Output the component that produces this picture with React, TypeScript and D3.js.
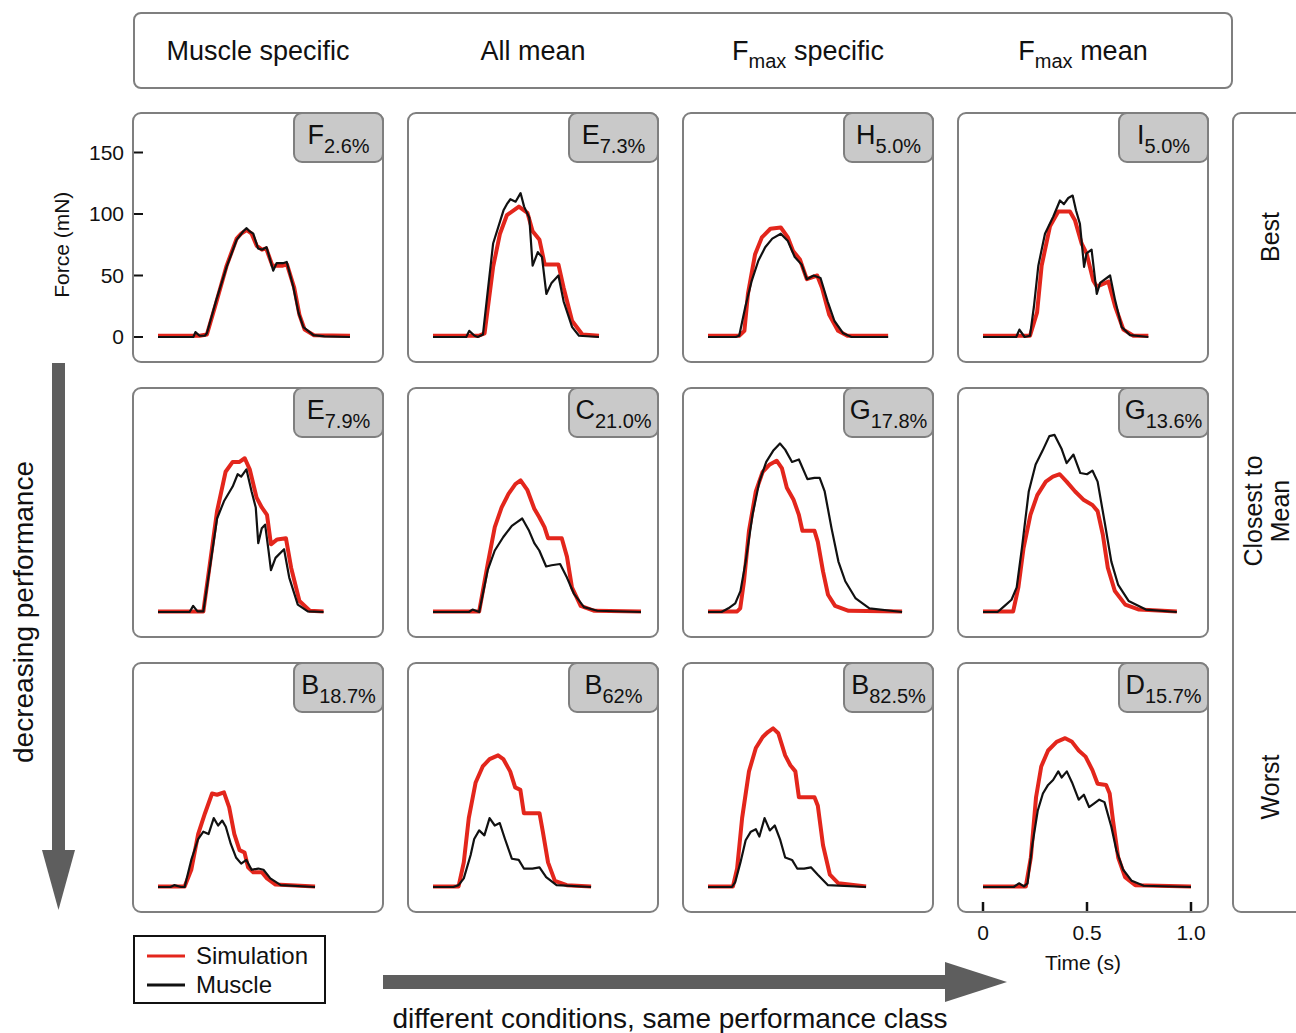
import React from "react";
import * as d3 from "d3";

type Pt = [number, number];

// column / row headings
const columnTitles: [string, string, string][] = [
  ["Muscle specific", "", ""],
  ["All mean", "", ""],
  ["F", "max", " specific"],
  ["F", "max", " mean"],
];
const rowLabels: string[][] = [["Best"], ["Closest to", "Mean"], ["Worst"]];

// panel badges (muscle letter + error)
const panelLetters = ["F", "E", "H", "I", "E", "C", "G", "G", "B", "B", "B", "D"];
const panelErrors = ["2.6%", "7.3%", "5.0%", "5.0%", "7.9%", "21.0%", "17.8%", "13.6%", "18.7%", "62%", "82.5%", "15.7%"];

const forceTicks = [0, 50, 100, 150];
const timeTicks = [0, 0.5, 1.0];
const timeTickLabels = ["0", "0.5", "1.0"];

// traces: [time (s), force (mN)]
const musF26: Pt[] = [[0,0],[0.17,0],[0.18,4],[0.2,1],[0.225,1],[0.235,3],[0.28,30],[0.33,57],[0.378,79],[0.41,86],[0.426,88.5],[0.44,86],[0.458,84],[0.481,72],[0.5,71],[0.522,73],[0.554,54],[0.57,60],[0.6,60],[0.619,61],[0.65,41],[0.675,20],[0.699,8],[0.747,1.5],[0.8,0.5],[0.923,0]];
const simF26: Pt[] = [[0,1],[0.2,1],[0.235,2],[0.28,28],[0.33,58],[0.378,80],[0.4,84],[0.426,87],[0.45,84],[0.475,74],[0.5,71],[0.52,72],[0.55,58],[0.6,58],[0.62,59],[0.655,40],[0.68,18],[0.705,6],[0.75,1.5],[0.923,1]];

const musE73: Pt[] = [[0,0],[0.16,0],[0.174,5],[0.2,1],[0.215,0],[0.24,2],[0.265,40],[0.289,76],[0.339,103],[0.355,108],[0.372,112],[0.397,110],[0.421,117],[0.438,106],[0.463,97],[0.479,58],[0.504,69],[0.524,65],[0.545,35],[0.57,44],[0.603,50],[0.628,29],[0.669,8],[0.702,1],[0.798,0]];
const simE73: Pt[] = [[0,1],[0.22,1],[0.248,3],[0.289,57],[0.322,84],[0.355,99],[0.413,106],[0.454,101],[0.479,86],[0.512,79],[0.537,59],[0.603,59],[0.628,40],[0.669,13],[0.718,2],[0.798,1]];

const musH50: Pt[] = [[0,0],[0.134,0],[0.15,1],[0.18,25],[0.209,45],[0.242,62],[0.275,73],[0.309,80],[0.35,84],[0.384,78],[0.417,65],[0.45,59],[0.475,47],[0.508,50],[0.541,48],[0.575,29],[0.608,13],[0.65,3],[0.69,0],[0.866,0]];
const simH50: Pt[] = [[0,1],[0.15,1],[0.175,5],[0.192,35],[0.226,67],[0.259,81],[0.3,88],[0.35,89],[0.384,81],[0.409,70],[0.442,63],[0.475,47],[0.525,50],[0.548,40],[0.583,18],[0.625,5],[0.67,1],[0.866,1]];

const musI50: Pt[] = [[0,0],[0.16,0],[0.175,6],[0.2,0],[0.226,1],[0.245,25],[0.266,58],[0.298,84],[0.338,98],[0.37,111],[0.389,108],[0.41,113],[0.431,115],[0.447,103],[0.466,92],[0.486,57],[0.498,68],[0.522,71],[0.547,35],[0.563,44],[0.611,50],[0.635,30],[0.667,8],[0.707,1.5],[0.795,0]];
const simI50: Pt[] = [[0,1],[0.226,1],[0.26,20],[0.282,58],[0.322,90],[0.362,102],[0.418,102],[0.442,95],[0.474,76],[0.498,68],[0.53,46],[0.547,41],[0.603,45],[0.635,25],[0.675,6],[0.723,1],[0.795,1]];

const musE79: Pt[] = [[0,0],[0.152,0],[0.169,5],[0.19,0.5],[0.218,0.5],[0.251,38],[0.284,76],[0.317,90],[0.359,102],[0.383,112],[0.4,110],[0.425,116],[0.45,98],[0.47,85],[0.482,56],[0.499,68],[0.515,71],[0.532,49],[0.543,34],[0.565,44],[0.606,51],[0.631,28],[0.672,6],[0.72,0.5],[0.796,0]];
const simE79: Pt[] = [[0,0.5],[0.218,0.5],[0.251,41],[0.284,82],[0.325,114],[0.359,122],[0.392,122],[0.417,125],[0.441,116],[0.474,93],[0.499,85],[0.524,79],[0.543,55],[0.573,59],[0.615,60],[0.64,36],[0.68,9],[0.73,1],[0.796,0.5]];

const musC210: Pt[] = [[0,0],[0.173,0],[0.19,2],[0.222,0],[0.263,34],[0.297,50],[0.338,61],[0.379,70],[0.404,73],[0.429,76],[0.462,66],[0.487,56],[0.511,50],[0.544,37],[0.57,38],[0.611,39],[0.644,28],[0.677,15],[0.726,4],[0.79,1],[1.0,0]];
const simC210: Pt[] = [[0,0.5],[0.222,0.5],[0.263,39],[0.297,69],[0.33,85],[0.363,96],[0.396,104],[0.421,107],[0.454,99],[0.487,84],[0.511,77],[0.536,69],[0.553,60],[0.619,60],[0.644,45],[0.668,20],[0.71,5],[0.776,1],[1.0,0.5]];

const musG178: Pt[] = [[0,0],[0.065,0],[0.098,3],[0.131,7],[0.156,17],[0.181,41],[0.214,79],[0.247,106],[0.28,122],[0.313,131],[0.346,137],[0.371,132],[0.404,122],[0.437,124],[0.478,108],[0.512,109],[0.537,109],[0.561,98],[0.594,68],[0.627,41],[0.66,25],[0.71,11],[0.776,3],[0.933,0]];
const simG178: Pt[] = [[0,0.5],[0.14,0.5],[0.155,3],[0.173,25],[0.197,66],[0.23,98],[0.263,114],[0.297,120],[0.33,123],[0.355,117],[0.379,101],[0.412,91],[0.437,79],[0.454,66],[0.512,66],[0.528,57],[0.553,33],[0.577,14],[0.611,5],[0.676,1],[0.933,0.5]];

const musG136: Pt[] = [[0,0],[0.07,0],[0.104,5],[0.137,10],[0.162,20],[0.187,52],[0.22,98],[0.253,120],[0.286,131],[0.319,143],[0.344,144],[0.377,133],[0.402,121],[0.435,128],[0.468,113],[0.5,112],[0.526,115],[0.551,106],[0.584,74],[0.617,41],[0.65,22],[0.7,9],[0.783,2],[0.932,0]];
const simG136: Pt[] = [[0,0.5],[0.145,0.5],[0.17,20],[0.195,52],[0.228,79],[0.261,95],[0.302,106],[0.336,110],[0.369,112],[0.402,106],[0.443,98],[0.485,91],[0.526,87],[0.551,82],[0.576,63],[0.6,36],[0.634,17],[0.684,6],[0.75,2],[0.932,0.5]];

const musB187: Pt[] = [[0,0],[0.06,0],[0.078,1.5],[0.111,0],[0.128,0],[0.16,22],[0.193,39],[0.218,45],[0.243,43],[0.268,56],[0.289,50],[0.309,54],[0.326,49],[0.35,35],[0.375,24],[0.4,19],[0.425,22],[0.45,14],[0.482,15],[0.507,14],[0.54,7],[0.59,1.5],[0.755,0]];
const simB187: Pt[] = [[0,0.5],[0.128,0.5],[0.16,14],[0.193,43],[0.226,60],[0.26,76],[0.284,75],[0.317,77],[0.342,65],[0.367,43],[0.392,30],[0.416,28],[0.433,16],[0.458,12],[0.499,12],[0.524,7],[0.565,2],[0.755,0.5]];

const musB62: Pt[] = [[0,0],[0.098,0],[0.123,1.5],[0.148,7],[0.181,26],[0.198,39],[0.222,46],[0.247,42],[0.272,56],[0.297,50],[0.321,52],[0.346,39],[0.379,23],[0.412,22],[0.437,15],[0.478,15],[0.512,16],[0.544,8],[0.594,1.5],[0.76,0]];
const simB62: Pt[] = [[0,0.5],[0.123,0.5],[0.148,20],[0.172,56],[0.205,85],[0.239,98],[0.272,104],[0.313,107],[0.338,104],[0.371,94],[0.395,81],[0.42,79],[0.437,60],[0.512,60],[0.528,45],[0.553,20],[0.586,5],[0.643,1.5],[0.76,0.5]];

const musB825: Pt[] = [[0,0],[0.115,0],[0.131,4],[0.156,20],[0.181,38],[0.206,45],[0.23,47],[0.247,41],[0.272,56],[0.297,46],[0.321,50],[0.346,39],[0.371,24],[0.404,22],[0.429,15],[0.462,15],[0.495,16],[0.528,10],[0.577,1.5],[0.76,0]];
const simB825: Pt[] = [[0,0.5],[0.12,0.5],[0.14,15],[0.164,56],[0.197,94],[0.23,113],[0.263,122],[0.288,126],[0.313,129],[0.338,125],[0.371,107],[0.396,99],[0.42,94],[0.437,73],[0.512,73],[0.528,66],[0.553,34],[0.586,10],[0.627,3],[0.76,0.5]];

const musD157: Pt[] = [[0,0],[0.148,0],[0.173,3],[0.197,0.5],[0.214,3],[0.238,35],[0.263,62],[0.288,76],[0.313,83],[0.337,87],[0.362,94],[0.378,89],[0.403,94],[0.428,85],[0.46,71],[0.485,75],[0.51,65],[0.535,68],[0.559,71],[0.584,69],[0.617,49],[0.641,30],[0.674,14],[0.715,5],[0.773,1],[1.0,0]];
const simD157: Pt[] = [[0,0.5],[0.206,0.5],[0.23,24],[0.255,73],[0.28,98],[0.313,111],[0.354,118],[0.395,121],[0.428,118],[0.46,111],[0.493,106],[0.526,95],[0.551,84],[0.592,83],[0.609,76],[0.625,54],[0.65,24],[0.683,8],[0.732,1.5],[1.0,0.5]];

const simTraces = [simF26, simE73, simH50, simI50, simE79, simC210, simG178, simG136, simB187, simB62, simB825, simD157];
const musTraces = [musF26, musE73, musH50, musI50, musE79, musC210, musG178, musG136, musB187, musB62, musB825, musD157];

const RED = "#e3261c";
const FRAME = "#7f7f7f";
const ARROW = "#5e5e5e";
const FONT = "'Liberation Sans', Arial, Helvetica, sans-serif";

const PW = 250;
const PH = 249;

export default function App() {
  const x = d3.scaleLinear().domain([0, 1]).range([25, 233]);
  const y = d3.scaleLinear().domain([0, 150]).range([224, 39.5]);
  const line = d3
    .line<Pt>()
    .x((d) => x(d[0]))
    .y((d) => y(d[1]));

  const colX = (c: number) => 133 + c * 275;
  const rowY = (r: number) => 113 + r * 275;

  return (
    <svg
      width={1296}
      height={1033}
      style={{ position: "absolute", left: 0, top: 0, fontFamily: FONT }}
    >
      <rect width={1296} height={1033} fill="white" />

      {/* header with column titles */}
      <rect x={134} y={13} width={1098} height={75} rx={7} fill="white" stroke={FRAME} strokeWidth={2} />
      {columnTitles.map((t, i) => (
        <text key={i} x={colX(i) + 125} y={60} fontSize={27} textAnchor="middle" fill="#111">
          {t[0]}
          {t[1] && (
            <tspan fontSize={20} dy={8}>
              {t[1]}
            </tspan>
          )}
          {t[2] && <tspan dy={-8}>{t[2]}</tspan>}
        </text>
      ))}

      {/* right box with performance classes */}
      <rect x={1233} y={113} width={90} height={799} rx={8} fill="white" stroke={FRAME} strokeWidth={2} />
      {rowLabels.map((lines, r) =>
        lines.map((s, k) => (
          <text
            key={r + "-" + k}
            transform={`translate(${lines.length === 1 ? 1279 : 1262 + k * 27},${rowY(r) + (r === 1 ? 123 : 124)}) rotate(-90)`}
            fontSize={25}
            textAnchor="middle"
            fill="#111"
          >
            {s}
          </text>
        ))
      )}

      {/* panels */}
      {panelLetters.map((letter, i) => {
        const c = i % 4;
        const r = Math.floor(i / 4);
        return (
          <g key={i} transform={`translate(${colX(c)},${rowY(r)})`}>
            <rect x={0} y={0} width={PW} height={PH} rx={8} fill="white" stroke={FRAME} strokeWidth={2} />
            <path d={line(simTraces[i]) || ""} fill="none" stroke={RED} strokeWidth={4} strokeLinejoin="round" />
            <path d={line(musTraces[i]) || ""} fill="none" stroke="#111" strokeWidth={2.2} strokeLinejoin="round" />
            <rect x={161} y={0} width={89} height={49} rx={8} fill="#c9c9c9" stroke={FRAME} strokeWidth={2} />
            <text x={205.5} y={31} fontSize={27} textAnchor="middle" fill="#111">
              {letter}
              <tspan fontSize={20} dy={9}>
                {panelErrors[i]}
              </tspan>
            </text>
          </g>
        );
      })}

      {/* force axis on the first panel */}
      <g transform={`translate(${colX(0)},${rowY(0)})`}>
        {forceTicks.map((v) => (
          <g key={v}>
            <line x1={1} x2={10} y1={y(v)} y2={y(v)} stroke="#111" strokeWidth={2} />
            <text x={-9} y={y(v)} dy="0.35em" fontSize={21} textAnchor="end" fill="#111">
              {v}
            </text>
          </g>
        ))}
        <text transform={`translate(-64,${y(75)}) rotate(-90)`} fontSize={21} textAnchor="middle" fill="#111">
          Force (mN)
        </text>
      </g>

      {/* time axis on the last panel */}
      <g transform={`translate(${colX(3)},${rowY(2)})`}>
        {timeTicks.map((v, k) => (
          <g key={v}>
            <line x1={x(v)} x2={x(v)} y1={PH - 10} y2={PH - 1} stroke="#111" strokeWidth={2.5} />
            <text x={x(v)} y={PH + 21} dy="0.35em" fontSize={21} textAnchor="middle" fill="#111">
              {timeTickLabels[k]}
            </text>
          </g>
        ))}
        <text x={125} y={PH + 58} fontSize={21} textAnchor="middle" fill="#111">
          Time (s)
        </text>
      </g>

      {/* decreasing performance arrow */}
      <rect x={52} y={363} width={13} height={488} fill={ARROW} />
      <polygon points="42,850 75,850 58.5,910" fill={ARROW} />
      <text transform="translate(33,612) rotate(-90)" fontSize={28} textAnchor="middle" fill="#111">
        decreasing performance
      </text>

      {/* different conditions arrow */}
      <rect x={383} y={975} width={565} height={14} fill={ARROW} />
      <polygon points="945,962 1007,982 945,1002" fill={ARROW} />
      <text x={670} y={1028} fontSize={28} textAnchor="middle" fill="#111">
        different conditions, same performance class
      </text>

      {/* legend */}
      <rect x={134} y={936} width={191} height={67} fill="white" stroke="#111" strokeWidth={2} />
      <line x1={147} x2={185} y1={956} y2={956} stroke={RED} strokeWidth={3} />
      <line x1={147} x2={185} y1={985} y2={985} stroke="#111" strokeWidth={3} />
      <text x={196} y={956} dy="0.35em" fontSize={24} fill="#111">
        Simulation
      </text>
      <text x={196} y={985} dy="0.35em" fontSize={24} fill="#111">
        Muscle
      </text>
    </svg>
  );
}
